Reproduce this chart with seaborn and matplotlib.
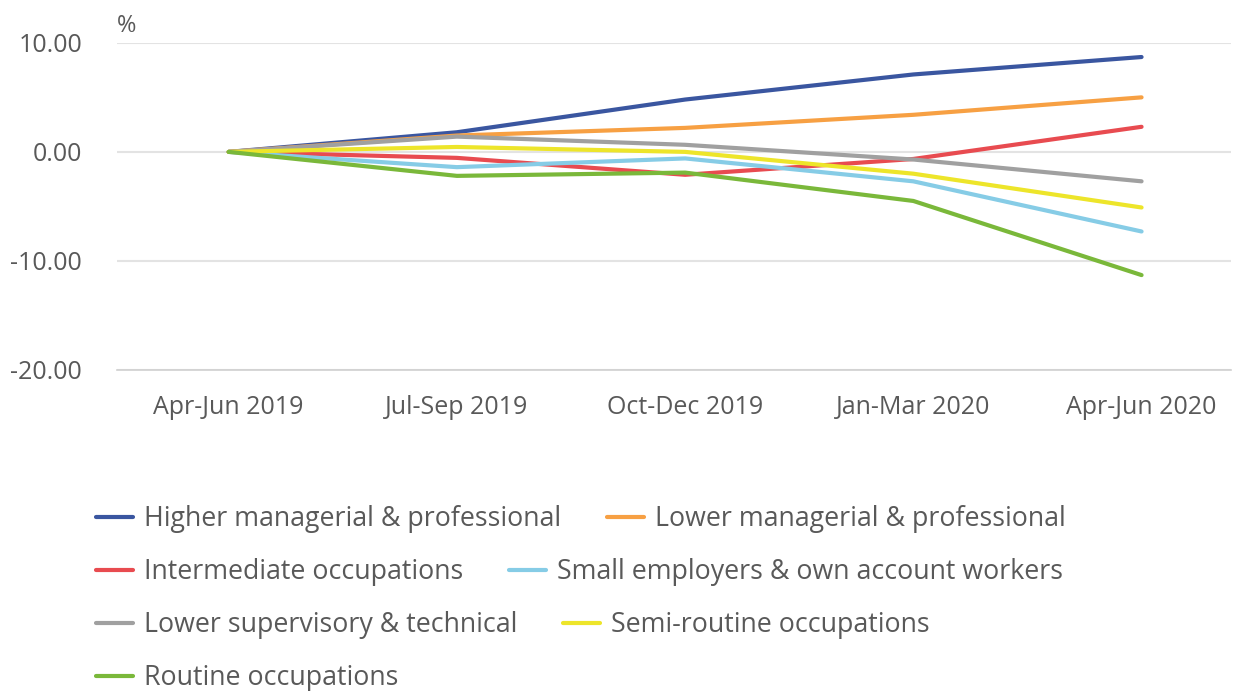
import seaborn as sns
import matplotlib.pyplot as plt
import matplotlib.ticker as mticker
from matplotlib.lines import Line2D
import pandas as pd

# Percentage change since Apr-Jun 2019, by occupation group
quarters = ['Apr-Jun 2019', 'Jul-Sep 2019', 'Oct-Dec 2019', 'Jan-Mar 2020', 'Apr-Jun 2020']

groups = [
    'Higher managerial & professional',
    'Lower managerial & professional',
    'Intermediate occupations',
    'Small employers & own account workers',
    'Lower supervisory & technical',
    'Semi-routine occupations',
    'Routine occupations',
]

higher_managerial = [0.0, 1.8, 4.8, 7.1, 8.7]
lower_managerial = [0.0, 1.5, 2.2, 3.4, 5.0]
intermediate = [0.0, -0.55, -2.1, -0.65, 2.3]
small_employers = [0.0, -1.4, -0.6, -2.7, -7.3]
lower_supervisory = [0.0, 1.4, 0.65, -0.7, -2.7]
semi_routine = [0.0, 0.45, 0.0, -2.0, -5.1]
routine = [0.0, -2.2, -1.9, -4.5, -11.3]

series = [higher_managerial, lower_managerial, intermediate, small_employers,
          lower_supervisory, semi_routine, routine]

colors = ['#3A56A0', '#F7A043', '#E84B50', '#86CCE6', '#A0A0A0', '#EDE52A', '#7AB83A']
palette = dict(zip(groups, colors))

rows = []
for g, vals in zip(groups, series):
    for q, v in zip(quarters, vals):
        rows.append({'Quarter': q, 'Group': g, 'Change': v})
df = pd.DataFrame(rows)

sns.set_style("white")
plt.rcParams['font.family'] = ['Open Sans', 'DejaVu Sans']
text_col = '#595959'

fig = plt.figure(figsize=(12.43, 6.91), dpi=100)
ax = fig.add_axes([0.094, 0.4646, 0.896, 0.4734])

sns.lineplot(data=df, x='Quarter', y='Change', hue='Group', palette=palette,
             hue_order=groups, sort=False, linewidth=3, legend=False, ax=ax,
             solid_capstyle='round')

ax.set_ylim(-20, 10)
ax.set_xlim(-0.49, 4.39)
ax.set_yticks([-20, -10, 0, 10])
ax.yaxis.set_major_formatter(mticker.FormatStrFormatter('%.2f'))
ax.grid(axis='y', color='#E3E3E3', linewidth=1.5)
ax.set_axisbelow(True)
for s in ['top', 'right', 'left']:
    ax.spines[s].set_visible(False)
ax.spines['bottom'].set_color('#D0D0D0')
ax.spines['bottom'].set_linewidth(1.2)
ax.tick_params(axis='x', direction='out', length=14, width=1.2, color='#D0D0D0',
               labelsize=18, labelcolor=text_col, pad=4)
ax.tick_params(axis='y', length=0, labelsize=18, labelcolor=text_col, pad=25)
ax.set_xlabel('')
ax.set_ylabel('')
ax.text(0.0, 1.015, '%', transform=ax.transAxes, fontsize=17, color=text_col,
        ha='left', va='bottom')

# Legend laid out in rows like the reference (flowing two per row)
handles = [Line2D([0], [0], color=c, linewidth=3) for c in colors]
row_sets = [(0, 1), (2, 3), (4, 5), (6,)]
row_y = [1 - 519 / 691, 1 - 572 / 691, 1 - 625 / 691, 1 - 678 / 691]
for idx, y in zip(row_sets, row_y):
    fig.legend([handles[i] for i in idx], [groups[i] for i in idx],
               loc='center left', bbox_to_anchor=(0.077, y), ncol=len(idx),
               frameon=False, fontsize=19.3, labelcolor=text_col,
               handlelength=1.4, handletextpad=0.4, columnspacing=1.7,
               borderaxespad=0, borderpad=0)

fig.savefig("out.png", dpi=100)
